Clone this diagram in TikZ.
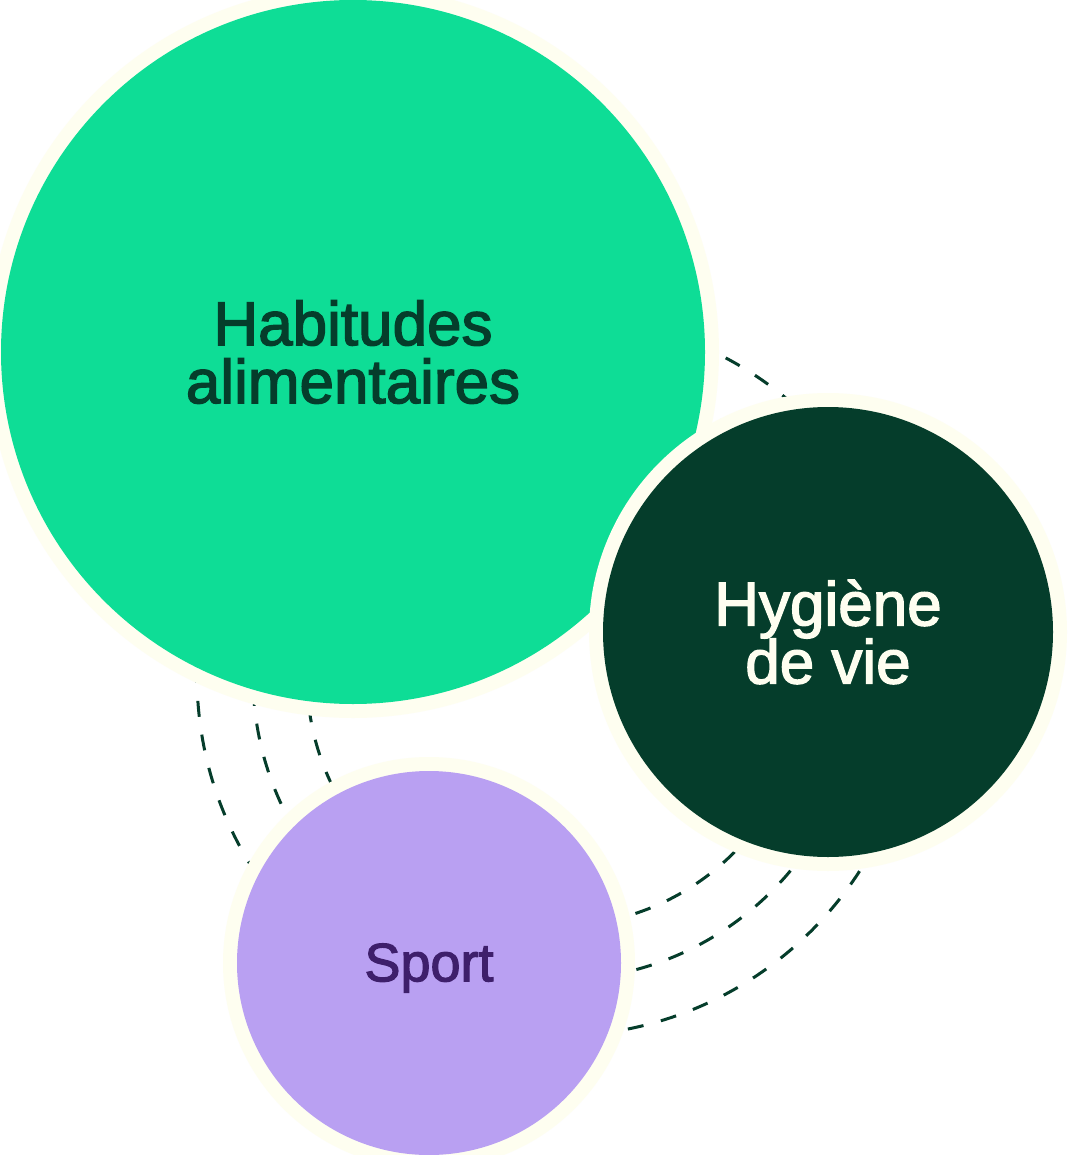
\documentclass[tikz,border=0pt]{standalone}
\usepackage{fontspec}
\setmainfont{Liberation Sans}[FakeBold=2.2]
\usepackage{xcolor}
\usepackage{tikz}
\usetikzlibrary{positioning}

\definecolor{mint}{HTML}{0EDD96}
\definecolor{forest}{HTML}{053D2B}
\definecolor{lilac}{HTML}{B9A0F2}
\definecolor{cream}{HTML}{FEFEF0}
\definecolor{plum}{HTML}{3E1F6B}

\begin{document}
\begin{tikzpicture}[
  x=1pt, y=-1pt,
  bubble/.style={circle, inner sep=0pt, outer sep=0pt, align=center,
    preaction={draw=cream, line width=28pt}},
  lbl/.style={font=\fontsize{62}{58}\selectfont},
  orbit/.style={draw=forest, line width=3pt, dash pattern=on 16pt off 18pt}
]
\useasboundingbox (0,0) rectangle (1068,1155);
\fill[white] (0,0) rectangle (1068,1155);

% dashed orbits behind the bubbles
\coordinate (hub) at (557,676);
\foreach \r/\ph in {250/0,304/17,360/0} {
  \draw[orbit, dash phase=\ph pt] (hub) circle[radius=\r pt];
}

\node[bubble, fill=mint, minimum size=704pt, lbl, text=forest] (habits) at (353,352)
  {Habitudes\\alimentaires};
\node[bubble, fill=forest, minimum size=450pt, lbl, text=cream] (hygiene) at (828,632)
  {Hygi\`ene\\de vie};
\node[bubble, fill=lilac, minimum size=384pt, text=plum] (sport) at (429,963) {};
\node[font=\fontsize{54}{54}\selectfont, text=plum] (sportlbl) at ([yshift=-5pt]sport.center) {Sport};
\end{tikzpicture}
\end{document}
